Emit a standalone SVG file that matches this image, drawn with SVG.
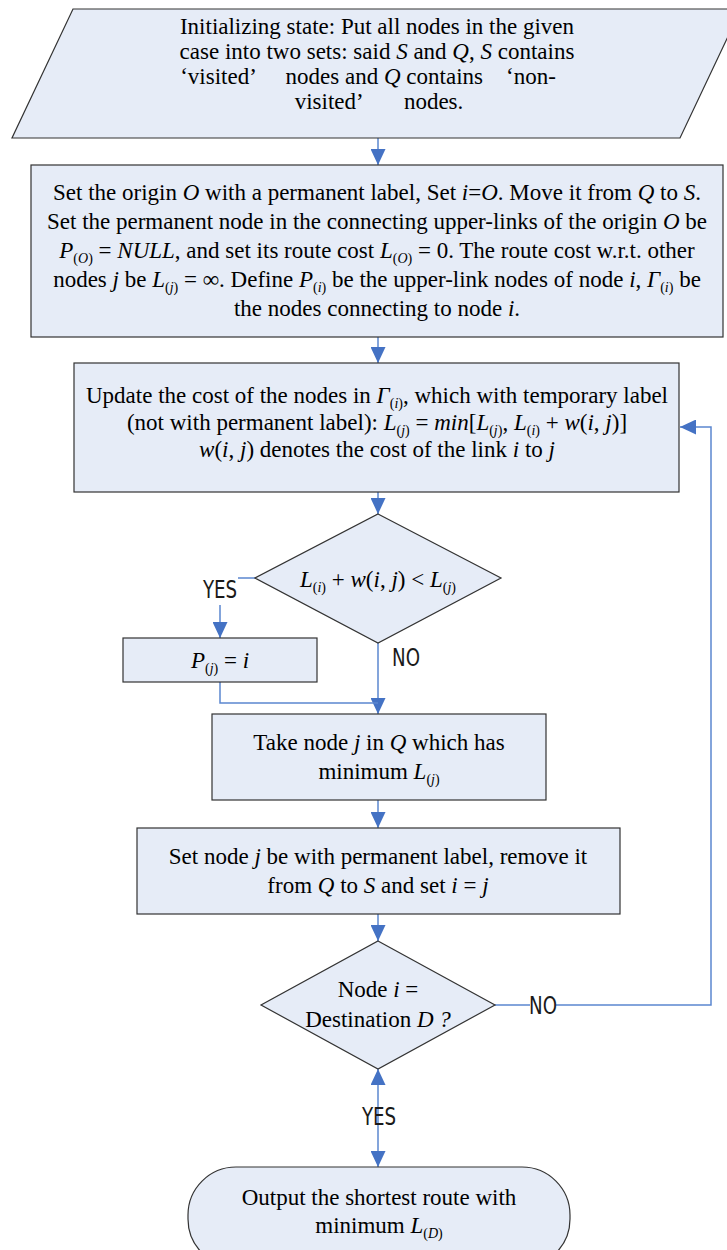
<svg xmlns="http://www.w3.org/2000/svg" width="727" height="1250" viewBox="0 0 727 1250">
  <defs>
    <style>
      .shape { fill: #E6ECF7; stroke: #333; stroke-width: 1.2; }
      .t { font-family: "Liberation Serif", "Times New Roman", serif; font-size: 23px; fill: #000; text-anchor: middle; }
      .i { font-style: italic; }
      .s { font-size: 14px; }
      .lbl { font-family: "Liberation Sans Narrow", "DejaVu Sans Condensed", sans-serif; font-size: 23px; fill: #1a1a1a; text-anchor: middle; }
      .conn { fill: none; stroke: #5B87CF; stroke-width: 1.5; }
    </style>
    <marker id="ah" viewBox="0 0 16 15" refX="16" refY="7.5" markerWidth="16" markerHeight="15" markerUnits="userSpaceOnUse" orient="auto-start-reverse">
      <path d="M0,0L16,7.5L0,15z" fill="#4472C4"/>
    </marker>
  </defs>

  <rect width="727" height="1250" fill="#fff"/>

  <!-- connectors -->
  <g id="connectors">
    <path class="conn" d="M378,138V165" marker-end="url(#ah)"/>
    <path class="conn" d="M378,337V363" marker-end="url(#ah)"/>
    <path class="conn" d="M378,492V514" marker-end="url(#ah)"/>
    <path class="conn" d="M255,578H220V638" marker-end="url(#ah)"/>
    <path class="conn" d="M378,643V714" marker-end="url(#ah)"/>
    <path class="conn" d="M220,682V703H378"/>
    <path class="conn" d="M378,800V828" marker-end="url(#ah)"/>
    <path class="conn" d="M378,914V941" marker-end="url(#ah)"/>
    <path class="conn" d="M495,1005H711V427H680" marker-end="url(#ah)"/>
    <path class="conn" d="M378,1069V1167" marker-start="url(#ah)" marker-end="url(#ah)"/>
    <!-- branch labels -->
    <rect x="200" y="574" width="38" height="31" fill="#fff"/>
    <text class="lbl" transform="translate(220,598) scale(0.88,1.1)">YES</text>
    <text class="lbl" transform="translate(406,666) scale(0.88,1.1)">NO</text>
    <rect x="530" y="995" width="26" height="22" fill="#fff"/>
    <text class="lbl" transform="translate(543,1014) scale(0.88,1.1)">NO</text>
    <text class="lbl" transform="translate(379,1125) scale(0.88,1.1)">YES</text>
  </g>

  <!-- initial state -->
  <g id="init">
    <polygon class="shape" points="73,9 741,9 680,138 12,138"/>
    <text class="t" x="377" y="34">Initializing state: Put all nodes in the given</text>
    <text class="t" x="377" y="59">case into two sets: said <tspan class="i">S</tspan> and <tspan class="i">Q</tspan>, <tspan class="i">S</tspan> contains</text>
    <text class="t" x="368" y="84">‘visited’&#x2003; nodes and <tspan class="i">Q</tspan> contains&#x2003;‘non-</text>
    <text class="t" x="379" y="109">visited’&#x2003;&#x2002; nodes.</text>
  </g>

  <!-- origin setup -->
  <g id="origin">
    <rect class="shape" x="31" y="165" width="692" height="172"/>
    <text class="t" x="377" y="200">Set the origin <tspan class="i">O</tspan> with a permanent label, Set <tspan class="i">i</tspan>=<tspan class="i">O</tspan>. Move it from <tspan class="i">Q</tspan> to <tspan class="i">S</tspan>.</text>
    <text class="t" x="377" y="229">Set the permanent node in the connecting upper-links of the origin <tspan class="i">O</tspan> be</text>
    <text class="t" x="377" y="258"><tspan class="i">P</tspan><tspan class="s" dy="5">(<tspan class="i">O</tspan>)</tspan><tspan dy="-5"> = </tspan><tspan class="i">NULL</tspan>, and set its route cost <tspan class="i">L</tspan><tspan class="s" dy="5">(<tspan class="i">O</tspan>)</tspan><tspan dy="-5"> = 0. The route cost w.r.t. other</tspan></text>
    <text class="t" x="377" y="287">nodes <tspan class="i">j</tspan> be <tspan class="i">L</tspan><tspan class="s" dy="5">(<tspan class="i">j</tspan>)</tspan><tspan dy="-5"> = ∞. Define </tspan><tspan class="i">P</tspan><tspan class="s" dy="5">(<tspan class="i">i</tspan>)</tspan><tspan dy="-5"> be the upper-link nodes of node </tspan><tspan class="i">i</tspan>, <tspan class="i">Γ</tspan><tspan class="s" dy="5">(<tspan class="i">i</tspan>)</tspan><tspan dy="-5"> be</tspan></text>
    <text class="t" x="377" y="316">the nodes connecting to node <tspan class="i">i</tspan>.</text>
  </g>

  <!-- cost update -->
  <g id="update">
    <rect class="shape" x="74" y="363" width="605" height="129"/>
    <text class="t" x="377" y="403">Update the cost of the nodes in <tspan class="i">Γ</tspan><tspan class="s" dy="5">(<tspan class="i">i</tspan>)</tspan><tspan dy="-5">, which with temporary label</tspan></text>
    <text class="t" x="377" y="430">(not with permanent label): <tspan class="i">L</tspan><tspan class="s" dy="5">(<tspan class="i">j</tspan>)</tspan><tspan dy="-5"> = </tspan><tspan class="i">min</tspan>[<tspan class="i">L</tspan><tspan class="s" dy="5">(<tspan class="i">j</tspan>)</tspan><tspan dy="-5">, </tspan><tspan class="i">L</tspan><tspan class="s" dy="5">(<tspan class="i">i</tspan>)</tspan><tspan dy="-5"> + </tspan><tspan class="i">w</tspan>(<tspan class="i">i</tspan>, <tspan class="i">j</tspan>)]</text>
    <text class="t" x="377" y="457"><tspan class="i">w</tspan>(<tspan class="i">i</tspan>, <tspan class="i">j</tspan>) denotes the cost of the link <tspan class="i">i</tspan> to <tspan class="i">j</tspan></text>
  </g>

  <!-- relaxation test -->
  <g id="test">
    <polygon class="shape" points="378,514 501,578 378,643 255,578"/>
    <text class="t" x="378" y="587"><tspan class="i">L</tspan><tspan class="s" dy="5">(<tspan class="i">i</tspan>)</tspan><tspan dy="-5"> + </tspan><tspan class="i">w</tspan>(<tspan class="i">i</tspan>, <tspan class="i">j</tspan>) &lt; <tspan class="i">L</tspan><tspan class="s" dy="5">(<tspan class="i">j</tspan>)</tspan></text>
  </g>

  <!-- predecessor update -->
  <g id="pred">
    <rect class="shape" x="123" y="638" width="194" height="44"/>
    <text class="t" x="220" y="668"><tspan class="i">P</tspan><tspan class="s" dy="5">(<tspan class="i">j</tspan>)</tspan><tspan dy="-5"> = </tspan><tspan class="i">i</tspan></text>
  </g>

  <!-- pick minimum -->
  <g id="pick">
    <rect class="shape" x="212" y="714" width="334" height="86"/>
    <text class="t" x="379" y="750">Take node <tspan class="i">j</tspan> in <tspan class="i">Q</tspan> which has</text>
    <text class="t" x="379" y="779">minimum <tspan class="i">L</tspan><tspan class="s" dy="5">(<tspan class="i">j</tspan>)</tspan></text>
  </g>

  <!-- make permanent -->
  <g id="fix">
    <rect class="shape" x="137" y="828" width="483" height="86"/>
    <text class="t" x="378" y="864">Set node <tspan class="i">j</tspan> be with permanent label, remove it</text>
    <text class="t" x="378" y="893">from <tspan class="i">Q</tspan> to <tspan class="i">S</tspan> and set <tspan class="i">i</tspan> = <tspan class="i">j</tspan></text>
  </g>

  <!-- destination check -->
  <g id="dest">
    <polygon class="shape" points="378,941 495,1005 378,1069 261,1005"/>
    <text class="t" x="378" y="997">Node <tspan class="i">i</tspan> =</text>
    <text class="t" x="378" y="1027">Destination <tspan class="i">D ?</tspan></text>
  </g>

  <!-- output -->
  <g id="output">
    <rect class="shape" x="188" y="1167" width="382" height="100" rx="48" ry="48"/>
    <text class="t" x="379" y="1205">Output the shortest route with</text>
    <text class="t" x="379" y="1233">minimum <tspan class="i">L</tspan><tspan class="s" dy="5">(<tspan class="i">D</tspan>)</tspan></text>
  </g>
</svg>
